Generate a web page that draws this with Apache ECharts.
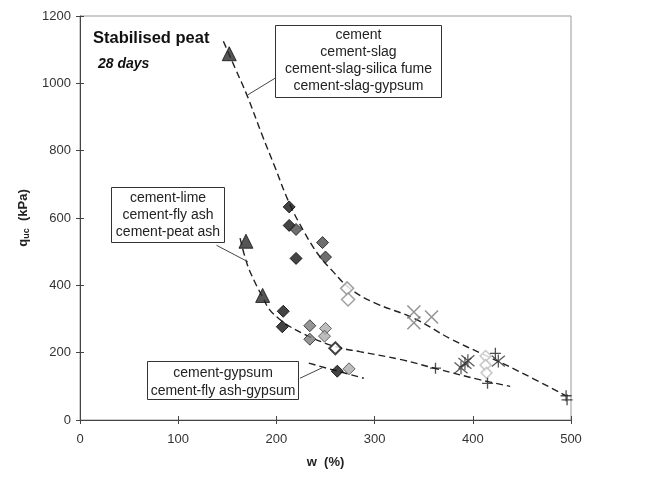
<!DOCTYPE html>
<html>
<head>
<meta charset="utf-8">
<script src="https://cdn.jsdelivr.net/npm/echarts@6/dist/echarts.min.js"></script>
<style>
    html, body { margin: 0; padding: 0; background: #fff; }
    #chart { width: 658px; height: 481px; }
</style>
</head>
<body>
<div id="chart"></div>
<script>
// axis ticks
const xTicks = [0, 100, 200, 300, 400, 500];
const yTicks = [0, 200, 400, 600, 800, 1000, 1200];

// marker groups: w (%) / q_uc (kPa)
const triW = [152, 169, 186];
const triQ = [1088, 531, 370];
const blackDiaW = [213, 213, 220, 207, 206, 262];
const blackDiaQ = [633, 578, 480, 323, 277, 145];
const darkDiaW = [220, 247, 250];
const darkDiaQ = [566, 527, 484];
const greyDiaW = [234, 234];
const greyDiaQ = [280, 240];
const lightDiaW = [250, 249, 274];
const lightDiaQ = [272, 249, 152];
const openDarkW = [260];
const openDarkQ = [213];
const openLightW = [272, 273];
const openLightQ = [391, 358];
const crossW = [340, 340, 358];
const crossQ = [321, 289, 306];
const starW = [388, 392, 395, 426];
const starQ = [155, 168, 176, 175];
const paleDiaW = [413, 413, 414];
const paleDiaQ = [190, 163, 140];
const plusW = [362, 415, 423, 495, 496];
const plusQ = [154, 109, 198, 72, 60];

// trend lines
const upperW = [146, 158, 170, 185, 198, 213, 228, 243, 258, 275, 300, 340, 378, 410, 448, 495];
const upperQ = [1125, 1045, 965, 850, 755, 645, 560, 490, 440, 390, 348, 302, 240, 196, 143, 72];
const lowerW = [163, 170, 178, 186, 193, 205, 214, 234, 261, 285, 326, 362, 408, 438];
const lowerQ = [540, 465, 410, 365, 328, 295, 277, 247, 217, 203, 180, 153, 119, 100];
const gypW = [233, 260, 289];
const gypQ = [169, 147, 124];

// leader lines from the label boxes
const lead1W = [198.5, 171];
const lead1Q = [1015, 966];
const lead2W = [139, 171];
const lead2Q = [519, 470];
const lead3W = [224, 248];
const lead3Q = [124, 157];

const pts = (w, q) => w.map((v, i) => [v, q[i]]);

const FONT = '"Liberation Sans", Arial, sans-serif';
const crossPath = 'path://M0,0L10,10M10,0L0,10';
const starPath = 'path://M0,0L10,10M10,0L0,10M5,-1L5,11';
const plusPath = 'path://M5,0L5,10M0,5L10,5';

const chart = echarts.init(document.getElementById('chart'));

function scatter(w, q, symbol, size, style) {
    return {
        type: 'scatter',
        xAxisIndex: 0, yAxisIndex: 0,
        data: pts(w, q),
        symbol: symbol,
        symbolSize: size,
        itemStyle: style,
        z: 5,
        silent: true
    };
}

function line(w, q, style, smooth) {
    return {
        type: 'line',
        xAxisIndex: 0, yAxisIndex: 0,
        data: pts(w, q),
        showSymbol: false,
        smooth: smooth,
        lineStyle: style,
        z: 3,
        silent: true
    };
}

const dashed = { color: '#222', width: 1.4, type: [7, 4] };
const leader = { color: '#444', width: 1, type: 'solid' };

const xBase = { type: 'value', min: xTicks[0], max: xTicks[xTicks.length - 1], interval: 100 };
const yBase = { type: 'value', min: yTicks[0], max: yTicks[yTicks.length - 1], interval: 200 };

chart.setOption({
    animation: false,
    grid: { left: 80, right: 87, top: 16, bottom: 61, show: true, borderColor: '#999', borderWidth: 1 },
    xAxis: [
        Object.assign({}, xBase, {
            name: 'w  (%)',
            nameLocation: 'middle',
            nameGap: 36,
            nameTextStyle: { fontFamily: FONT, fontSize: 13, fontWeight: 'bold', color: '#222' },
            axisLine: { lineStyle: { color: '#444' } },
            axisTick: { length: 4, lineStyle: { color: '#444' } },
            axisLabel: { margin: 13, fontFamily: FONT, fontSize: 13, color: '#333', formatter: v => String(v) },
            splitLine: { show: false }
        }),
        Object.assign({}, xBase, {
            position: 'bottom',
            axisLine: { show: false },
            axisTick: { inside: true, length: 4, lineStyle: { color: '#444' } },
            axisLabel: { show: false },
            splitLine: { show: false }
        })
    ],
    yAxis: [
        Object.assign({}, yBase, {
            name: '{b|q}{s|uc}{b|  (kPa)}',
            nameLocation: 'middle',
            nameGap: 42,
            nameRotate: 90,
            nameTextStyle: {
                rich: {
                    b: { fontFamily: FONT, fontSize: 13, fontWeight: 'bold', color: '#222' },
                    s: { fontFamily: FONT, fontSize: 9, fontWeight: 'bold', color: '#222', verticalAlign: 'bottom', padding: [6, 0, 0, 0] }
                }
            },
            axisLine: { lineStyle: { color: '#444' } },
            axisTick: { length: 4, lineStyle: { color: '#444' } },
            axisLabel: { margin: 9, fontFamily: FONT, fontSize: 13, color: '#333', formatter: v => String(v) },
            splitLine: { show: false }
        }),
        Object.assign({}, yBase, {
            position: 'left',
            axisLine: { show: false },
            axisTick: { inside: true, length: 4, lineStyle: { color: '#444' } },
            axisLabel: { show: false },
            splitLine: { show: false }
        })
    ],
    graphic: [
        { type: 'text', x: 93, y: 38, style: { text: 'Stabilised peat', font: 'bold 16.5px ' + FONT, fill: '#111', verticalAlign: 'middle' } },
        { type: 'text', x: 98, y: 64, style: { text: '28 days', font: 'italic bold 14px ' + FONT, fill: '#111', verticalAlign: 'middle' } },

        { type: 'rect', z: 10, shape: { x: 275.5, y: 25.5, width: 166, height: 72 }, style: { fill: '#fff', stroke: '#333', lineWidth: 1 } },
        { type: 'text', z: 11, x: 358.5, y: 26.5, style: { text: 'cement\ncement-slag\ncement-slag-silica fume\ncement-slag-gypsum', font: '14px ' + FONT, fill: '#222', align: 'center', verticalAlign: 'top', lineHeight: 17 } },

        { type: 'rect', z: 10, shape: { x: 111.5, y: 187.5, width: 113, height: 55 }, style: { fill: '#fff', stroke: '#333', lineWidth: 1 } },
        { type: 'text', z: 11, x: 168, y: 189.5, style: { text: 'cement-lime\ncement-fly ash\ncement-peat ash', font: '14px ' + FONT, fill: '#222', align: 'center', verticalAlign: 'top', lineHeight: 17 } },

        { type: 'rect', z: 10, shape: { x: 147.5, y: 361.5, width: 151, height: 38 }, style: { fill: '#fff', stroke: '#333', lineWidth: 1 } },
        { type: 'text', z: 11, x: 223, y: 364.5, style: { text: 'cement-gypsum\ncement-fly ash-gypsum', font: '14px ' + FONT, fill: '#222', align: 'center', verticalAlign: 'top', lineHeight: 17.5 } }
    ],
    series: [
        line(upperW, upperQ, dashed, 0.4),
        line(lowerW, lowerQ, dashed, 0.4),
        line(gypW, gypQ, dashed, 0.4),
        line(lead1W, lead1Q, leader, false),
        line(lead2W, lead2Q, leader, false),
        line(lead3W, lead3Q, leader, false),

        scatter(triW, triQ, 'triangle', 14, { color: '#2b2b2b', borderColor: '#111', borderWidth: 1 }),
        scatter(blackDiaW, blackDiaQ, 'diamond', 12, { color: '#151515', borderColor: '#000', borderWidth: 1 }),
        scatter(darkDiaW, darkDiaQ, 'diamond', 12, { color: '#4a4a4a', borderColor: '#111', borderWidth: 1 }),
        scatter(greyDiaW, greyDiaQ, 'diamond', 12, { color: '#7a7a7a', borderColor: '#222', borderWidth: 1 }),
        scatter(lightDiaW, lightDiaQ, 'diamond', 12, { color: '#adadad', borderColor: '#444', borderWidth: 1 }),
        scatter(openDarkW, openDarkQ, 'diamond', 12, { color: '#fff', borderColor: '#111', borderWidth: 2 }),
        scatter(openLightW, openLightQ, 'diamond', 13, { color: '#fff', borderColor: '#8a8a8a', borderWidth: 1.5 }),
        scatter(crossW, crossQ, crossPath, 13, { color: 'none', borderColor: '#777', borderWidth: 1.5 }),
        scatter(paleDiaW, paleDiaQ, 'diamond', 11, { color: '#fff', borderColor: '#bbb', borderWidth: 1.5 }),
        scatter(starW, starQ, starPath, 13, { color: 'none', borderColor: '#333', borderWidth: 1.3 }),
        scatter(plusW, plusQ, plusPath, 11, { color: 'none', borderColor: '#222', borderWidth: 1.3 })
    ]
});
</script>
</body>
</html>
